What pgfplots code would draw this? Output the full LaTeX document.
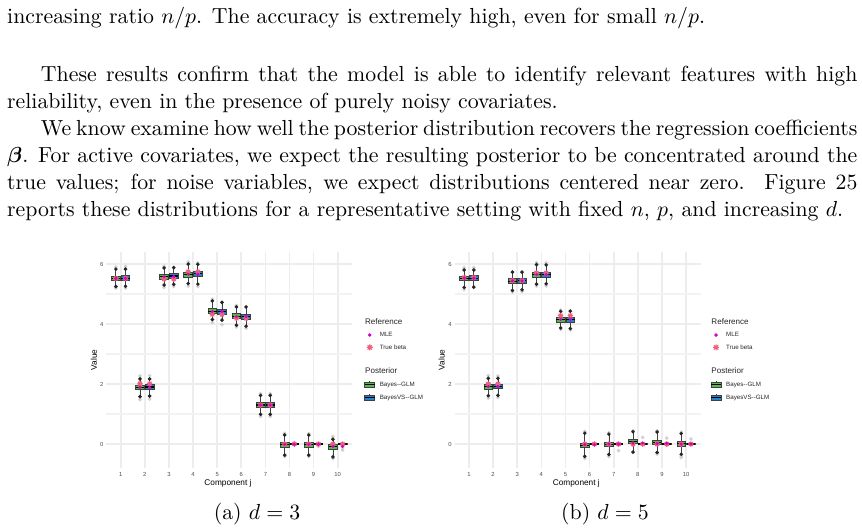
\documentclass[border=0pt]{standalone}
\usepackage{amsmath}
\usepackage{fontspec}
\newfontfamily\plotfont{Liberation Sans}
\usepackage{pgfplots}
\pgfplotsset{compat=1.18}
\usepgfplotslibrary{statistics}
\definecolor{bgreen}{RGB}{80,190,70}
\definecolor{bblue}{RGB}{36,130,200}
\definecolor{mlecol}{RGB}{210,0,200}
\definecolor{starcol}{RGB}{240,95,125}
\pgfdeclareplotmark{ast8}{%
 \pgfpathmoveto{\pgfqpoint{-\pgfplotmarksize}{0pt}}\pgfpathlineto{\pgfqpoint{\pgfplotmarksize}{0pt}}%
 \pgfpathmoveto{\pgfqpoint{0pt}{-\pgfplotmarksize}}\pgfpathlineto{\pgfqpoint{0pt}{\pgfplotmarksize}}%
 \pgfpathmoveto{\pgfqpoint{-.7071\pgfplotmarksize}{-.7071\pgfplotmarksize}}\pgfpathlineto{\pgfqpoint{.7071\pgfplotmarksize}{.7071\pgfplotmarksize}}%
 \pgfpathmoveto{\pgfqpoint{-.7071\pgfplotmarksize}{.7071\pgfplotmarksize}}\pgfpathlineto{\pgfqpoint{.7071\pgfplotmarksize}{-.7071\pgfplotmarksize}}%
 \pgfusepathqstroke}
\pgfplotsset{
 panel/.style={
   scale only axis, width=112.84pt, height=99.08pt,
   xmin=0.4, xmax=10.6, ymin=-0.8, ymax=6.4,
   xtick={1,...,10}, ytick={0,2,4,6}, minor ytick={1,3,5},
   grid=both, major grid style={black!7, line width=0.75pt}, minor grid style={black!5, line width=0.5pt},
   axis line style={draw=none}, major tick length=0pt, minor tick length=0pt,
   /pgf/number format/assume math mode=true,
   tick label style={font=\plotfont\fontsize{2.7}{3}\selectfont, text=black!70},
   xticklabel style={anchor=center, yshift=-2.9pt},
   yticklabel style={anchor=center, xshift=-2.06pt},
   xlabel={Component j}, ylabel={Value},
   label style={font=\plotfont\fontsize{3.8}{4.2}\selectfont},
   xlabel style={at={(axis description cs:0.495,-0.0708)}, anchor=center},
   legend cell align=left,
   legend style={anchor=north west, draw=none, fill=none, inner sep=0pt, outer sep=0pt,
     row sep=2.46pt, column sep=2.15pt,
     nodes={inner sep=0pt, text height=2.4pt, text depth=0.8pt, font=\plotfont\fontsize{2.85}{3.2}\selectfont, text=black!85}},
 },
 gb/.style={forget plot, boxplot/draw direction=y, draw=black!75, line width=0.35pt, fill=bgreen,
   boxplot/box extend=0.36, boxplot/whisker extend=0, boxplot/every median/.style={draw=black, line width=0.5pt}},
 vb/.style={gb, fill=bblue},
 enddots/.style={forget plot, only marks, mark=*, mark size=0.62pt, black!85},
 faint/.style={forget plot, only marks, mark=*, mark size=0.62pt, black!18},
 truebeta/.style={forget plot, only marks, mark=ast8, mark size=1.25pt, starcol, line width=0.5pt},
 mle/.style={forget plot, only marks, mark=*, mark size=0.5pt, mlecol},
}
\newcommand{\legendentries}{%
 \addlegendimage{empty legend}\addlegendentry{\hspace*{-6.74pt}\fontsize{3.7}{4}\selectfont Reference}
 \addlegendimage{legend image code/.code={\path[draw=none,fill=none] (0pt,-1.6pt) rectangle (4.59pt,1.6pt); \fill[mlecol] (2.3pt,0pt) circle (0.6pt);}}\addlegendentry{MLE}
 \addlegendimage{legend image code/.code={\path[draw=none,fill=none] (0pt,-1.6pt) rectangle (4.59pt,1.6pt); \draw[starcol, line width=0.5pt] plot[mark=ast8, mark size=1.4pt] coordinates {(2.3pt,0pt)};}}\addlegendentry{True beta}
 \addlegendimage{empty legend}\addlegendentry{}
 \addlegendimage{empty legend}\addlegendentry{\hspace*{-6.74pt}\fontsize{3.7}{4}\selectfont Posterior}
 \addlegendimage{legend image code/.code={\path[draw=none,fill=none] (0pt,-1.6pt) rectangle (4.59pt,1.6pt); \draw[black!75, line width=0.3pt] (2.3pt,-1.6pt)--(2.3pt,1.6pt); \draw[black!75, line width=0.3pt, fill=bgreen] (0pt,-1.2pt) rectangle (4.59pt,1.2pt); \draw[black, line width=0.4pt] (0pt,0pt)--(4.59pt,0pt);}}\addlegendentry{Bayes--GLM}
 \addlegendimage{legend image code/.code={\path[draw=none,fill=none] (0pt,-1.6pt) rectangle (4.59pt,1.6pt); \draw[black!75, line width=0.3pt] (2.3pt,-1.6pt)--(2.3pt,1.6pt); \draw[black!75, line width=0.3pt, fill=bblue] (0pt,-1.2pt) rectangle (4.59pt,1.2pt); \draw[black, line width=0.4pt] (0pt,0pt)--(4.59pt,0pt);}}\addlegendentry{BayesVS--GLM}
}
\begin{document}
\begin{tikzpicture}
\path[use as bounding box] (0,0) rectangle (395.4pt,-243.6pt);
% ---------- text ----------
\node[anchor=base west, inner sep=0] at (3.1pt,-11.0pt) {increasing ratio $n/p$. The accuracy is extremely high, even for small $n/p$.};
\node[anchor=base west, inner sep=0] at (3.1pt,-37.6pt) {\makebox[390pt][s]{\hspace*{15.5pt}These results confirm that the model is able to identify relevant features with high}};
\node[anchor=base west, inner sep=0] at (3.1pt,-49.93pt) {reliability, even in the presence of purely noisy covariates.};
\node[anchor=base west, inner sep=0] at (3.1pt,-62.26pt) {\makebox[390pt][s]{\hspace*{15.5pt}We know examine how well the posterior distribution recovers the regression coefficients}};
\node[anchor=base west, inner sep=0] at (3.1pt,-74.6pt) {\makebox[390pt][s]{$\boldsymbol{\beta}$. For active covariates, we expect the resulting posterior to be concentrated around the}};
\node[anchor=base west, inner sep=0] at (3.1pt,-86.93pt) {\makebox[390pt][s]{true values; for noise variables, we expect distributions centered near zero.\ \ Figure 25}};
\node[anchor=base west, inner sep=0] at (3.1pt,-99.26pt) {reports these distributions for a representative setting with fixed $n$, $p$, and increasing $d$.};
% ---------- left panel d=3 ----------
\begin{axis}[panel, at={(48.72pt,-214.68pt)}, anchor=south west,
  ylabel style={at={(axis description cs:-0.0496,0.5)}, anchor=center},
  legend style={at={(axis description cs:1.049,0.689)}}]
\addplot[gb, boxplot prepared={draw position=0.8, lower whisker=5.25, lower quartile=5.44, median=5.52, upper quartile=5.60, upper whisker=5.83}] coordinates {};
\addplot[gb, boxplot prepared={draw position=1.8, lower whisker=1.58, lower quartile=1.81, median=1.89, upper quartile=1.97, upper whisker=2.17}] coordinates {};
\addplot[gb, boxplot prepared={draw position=2.8, lower whisker=5.30, lower quartile=5.50, median=5.58, upper quartile=5.66, upper whisker=5.87}] coordinates {};
\addplot[gb, boxplot prepared={draw position=3.8, lower whisker=5.35, lower quartile=5.57, median=5.65, upper quartile=5.73, upper whisker=6.00}] coordinates {};
\addplot[gb, boxplot prepared={draw position=4.8, lower whisker=4.15, lower quartile=4.35, median=4.43, upper quartile=4.51, upper whisker=4.77}] coordinates {};
\addplot[gb, boxplot prepared={draw position=5.8, lower whisker=3.96, lower quartile=4.18, median=4.26, upper quartile=4.34, upper whisker=4.57}] coordinates {};
\addplot[gb, boxplot prepared={draw position=6.8, lower whisker=0.99, lower quartile=1.22, median=1.30, upper quartile=1.38, upper whisker=1.62}] coordinates {};
\addplot[gb, boxplot prepared={draw position=7.8, lower whisker=-0.37, lower quartile=-0.11, median=-0.03, upper quartile=0.05, upper whisker=0.30}] coordinates {};
\addplot[gb, boxplot prepared={draw position=8.8, lower whisker=-0.37, lower quartile=-0.11, median=-0.03, upper quartile=0.05, upper whisker=0.30}] coordinates {};
\addplot[gb, boxplot prepared={draw position=9.8, lower whisker=-0.43, lower quartile=-0.17, median=-0.09, upper quartile=-0.02, upper whisker=0.16}] coordinates {};
\addplot[vb, boxplot prepared={draw position=1.2, lower whisker=5.26, lower quartile=5.45, median=5.53, upper quartile=5.61, upper whisker=5.83}] coordinates {};
\addplot[vb, boxplot prepared={draw position=2.2, lower whisker=1.60, lower quartile=1.82, median=1.90, upper quartile=1.98, upper whisker=2.17}] coordinates {};
\addplot[vb, boxplot prepared={draw position=3.2, lower whisker=5.32, lower quartile=5.52, median=5.60, upper quartile=5.68, upper whisker=5.88}] coordinates {};
\addplot[vb, boxplot prepared={draw position=4.2, lower whisker=5.33, lower quartile=5.59, median=5.67, upper quartile=5.75, upper whisker=5.99}] coordinates {};
\addplot[vb, boxplot prepared={draw position=5.2, lower whisker=4.13, lower quartile=4.33, median=4.41, upper quartile=4.49, upper whisker=4.72}] coordinates {};
\addplot[vb, boxplot prepared={draw position=6.2, lower whisker=3.93, lower quartile=4.17, median=4.25, upper quartile=4.33, upper whisker=4.57}] coordinates {};
\addplot[vb, boxplot prepared={draw position=7.2, lower whisker=0.99, lower quartile=1.22, median=1.30, upper quartile=1.38, upper whisker=1.62}] coordinates {};
\addplot[vb, boxplot prepared={draw position=8.2, lower whisker=0, lower quartile=-0.005, median=0, upper quartile=0.005, upper whisker=0}] coordinates {};
\addplot[vb, boxplot prepared={draw position=9.2, lower whisker=0, lower quartile=-0.005, median=0, upper quartile=0.005, upper whisker=0}] coordinates {};
\addplot[vb, boxplot prepared={draw position=10.2, lower whisker=0, lower quartile=-0.005, median=0, upper quartile=0.005, upper whisker=0}] coordinates {};
\addplot[faint] coordinates {(0.8,5.9) (0.8,5.2) (1.8,2.27) (1.8,1.48) (2.8,5.22) (2.8,5.93) (3.8,6.07) (3.8,5.26) (4.8,4.83) (4.8,4.05) (5.8,3.9) (5.8,4.62) (6.8,1.68) (6.8,0.92) (7.8,0.36) (7.8,-0.42) (8.8,0.35) (8.8,-0.42) (9.8,0.25) (9.8,-0.48)
 (1.2,5.92) (1.2,5.2) (2.2,2.28) (2.2,1.5) (3.2,5.25) (4.2,5.25) (4.2,6.04) (5.2,3.98) (6.2,3.86) (7.2,1.68) (7.2,0.92) (8.2,0.05) (9.2,-0.08) (10.2,-0.12) (10.2,-0.2)};
\addplot[enddots] coordinates {(0.8,5.25) (0.8,5.83) (1.8,1.58) (1.8,2.17) (2.8,5.30) (2.8,5.87) (3.8,5.35) (3.8,6.00) (4.8,4.15) (4.8,4.77) (5.8,3.96) (5.8,4.57) (6.8,0.99) (6.8,1.62) (7.8,-0.37) (7.8,0.30) (8.8,-0.37) (8.8,0.30) (9.8,-0.43) (9.8,0.16)
 (1.2,5.26) (1.2,5.83) (2.2,1.60) (2.2,2.17) (3.2,5.32) (3.2,5.88) (4.2,5.33) (4.2,5.99) (5.2,4.13) (5.2,4.72) (6.2,3.93) (6.2,4.57) (7.2,0.99) (7.2,1.62)};
\addplot[truebeta] coordinates {(0.8,5.52) (1.2,5.52) (1.8,2.01) (2.2,2.01) (2.8,5.50) (3.2,5.50) (3.8,5.74) (4.2,5.74) (4.8,4.32) (5.2,4.32) (5.8,4.19) (6.2,4.19) (6.8,1.30) (7.2,1.30) (7.8,0) (8.2,0) (8.8,0) (9.2,0) (9.8,0) (10.2,0)};
\addplot[mle] coordinates {(0.8,5.52) (1.2,5.52) (1.8,1.89) (2.2,1.89) (2.8,5.58) (3.2,5.58) (3.8,5.66) (4.2,5.66) (4.8,4.42) (5.2,4.42) (5.8,4.25) (6.2,4.25) (6.8,1.30) (7.2,1.30) (7.8,-0.01) (8.2,-0.01) (8.8,-0.01) (9.2,-0.01) (9.8,-0.08) (10.2,-0.08)};
\legendentries
\end{axis}
% ---------- right panel d=5 ----------
\begin{axis}[panel, at={(208.49pt,-214.68pt)}, anchor=south west,
  ylabel style={at={(axis description cs:-0.052,0.5)}, anchor=center},
  legend style={at={(axis description cs:1.041,0.689)}}]
\addplot[gb, boxplot prepared={draw position=0.8, lower whisker=5.22, lower quartile=5.44, median=5.52, upper quartile=5.60, upper whisker=5.80}] coordinates {};
\addplot[gb, boxplot prepared={draw position=1.8, lower whisker=1.61, lower quartile=1.83, median=1.91, upper quartile=1.99, upper whisker=2.19}] coordinates {};
\addplot[gb, boxplot prepared={draw position=2.8, lower whisker=5.12, lower quartile=5.35, median=5.43, upper quartile=5.51, upper whisker=5.73}] coordinates {};
\addplot[gb, boxplot prepared={draw position=3.8, lower whisker=5.33, lower quartile=5.56, median=5.64, upper quartile=5.72, upper whisker=5.98}] coordinates {};
\addplot[gb, boxplot prepared={draw position=4.8, lower whisker=3.87, lower quartile=4.06, median=4.14, upper quartile=4.22, upper whisker=4.42}] coordinates {};
\addplot[gb, boxplot prepared={draw position=5.8, lower whisker=-0.41, lower quartile=-0.11, median=-0.04, upper quartile=0.03, upper whisker=0.36}] coordinates {};
\addplot[gb, boxplot prepared={draw position=6.8, lower whisker=-0.35, lower quartile=-0.09, median=-0.01, upper quartile=0.07, upper whisker=0.33}] coordinates {};
\addplot[gb, boxplot prepared={draw position=7.8, lower whisker=-0.27, lower quartile=0.01, median=0.08, upper quartile=0.15, upper whisker=0.41}] coordinates {};
\addplot[gb, boxplot prepared={draw position=8.8, lower whisker=-0.28, lower quartile=-0.01, median=0.06, upper quartile=0.13, upper whisker=0.40}] coordinates {};
\addplot[gb, boxplot prepared={draw position=9.8, lower whisker=-0.34, lower quartile=-0.07, median=0.01, upper quartile=0.08, upper whisker=0.35}] coordinates {};
\addplot[vb, boxplot prepared={draw position=1.2, lower whisker=5.23, lower quartile=5.45, median=5.53, upper quartile=5.61, upper whisker=5.80}] coordinates {};
\addplot[vb, boxplot prepared={draw position=2.2, lower whisker=1.62, lower quartile=1.84, median=1.92, upper quartile=2.00, upper whisker=2.19}] coordinates {};
\addplot[vb, boxplot prepared={draw position=3.2, lower whisker=5.14, lower quartile=5.37, median=5.45, upper quartile=5.53, upper whisker=5.73}] coordinates {};
\addplot[vb, boxplot prepared={draw position=4.2, lower whisker=5.34, lower quartile=5.57, median=5.65, upper quartile=5.73, upper whisker=5.97}] coordinates {};
\addplot[vb, boxplot prepared={draw position=5.2, lower whisker=3.85, lower quartile=4.06, median=4.14, upper quartile=4.22, upper whisker=4.43}] coordinates {};
\addplot[vb, boxplot prepared={draw position=6.2, lower whisker=0, lower quartile=-0.005, median=0, upper quartile=0.005, upper whisker=0}] coordinates {};
\addplot[vb, boxplot prepared={draw position=7.2, lower whisker=0, lower quartile=-0.005, median=0, upper quartile=0.005, upper whisker=0}] coordinates {};
\addplot[vb, boxplot prepared={draw position=8.2, lower whisker=0, lower quartile=-0.005, median=0, upper quartile=0.005, upper whisker=0}] coordinates {};
\addplot[vb, boxplot prepared={draw position=9.2, lower whisker=0, lower quartile=-0.005, median=0, upper quartile=0.005, upper whisker=0}] coordinates {};
\addplot[vb, boxplot prepared={draw position=10.2, lower whisker=0, lower quartile=-0.005, median=0, upper quartile=0.005, upper whisker=0}] coordinates {};
\addplot[faint] coordinates {(0.8,5.88) (0.8,5.15) (1.8,2.28) (1.8,1.53) (2.8,5.07) (3.8,6.05) (3.8,5.26) (4.8,3.82) (4.8,4.47) (5.8,0.42) (5.8,-0.48) (6.8,0.38) (6.8,-0.42) (7.8,0.45) (8.8,0.44) (8.8,-0.33) (9.8,-0.45) (9.8,0.40) (9.8,-0.40)
 (1.2,5.88) (2.2,2.27) (2.2,1.55) (3.2,5.08) (4.2,6.04) (4.2,5.27) (5.2,3.80) (6.2,0.03) (7.2,-0.22) (8.2,0.22) (9.2,0.20) (10.2,0.17)};
\addplot[enddots] coordinates {(0.8,5.22) (0.8,5.80) (1.8,1.61) (1.8,2.19) (2.8,5.12) (2.8,5.73) (3.8,5.33) (3.8,5.98) (4.8,3.87) (4.8,4.42) (5.8,-0.41) (5.8,0.36) (6.8,-0.35) (6.8,0.33) (7.8,-0.27) (7.8,0.41) (8.8,-0.28) (8.8,0.40) (9.8,-0.34) (9.8,0.35)
 (1.2,5.23) (1.2,5.80) (2.2,1.62) (2.2,2.19) (3.2,5.14) (3.2,5.73) (4.2,5.34) (4.2,5.97) (5.2,3.85) (5.2,4.43)};
\addplot[truebeta] coordinates {(0.8,5.55) (1.2,5.55) (1.8,2.00) (2.2,2.00) (2.8,5.45) (3.2,5.45) (3.8,5.70) (4.2,5.70) (4.8,4.28) (5.2,4.28) (5.8,0) (6.2,0) (6.8,0) (7.2,0) (7.8,0) (8.2,0) (8.8,0) (9.2,0) (9.8,0) (10.2,0)};
\addplot[mle] coordinates {(0.8,5.53) (1.2,5.53) (1.8,1.92) (2.2,1.92) (2.8,5.44) (3.2,5.44) (3.8,5.65) (4.2,5.65) (4.8,4.15) (5.2,4.15) (5.8,-0.02) (6.2,-0.02) (6.8,0) (7.2,0) (7.8,0.03) (8.2,0.03) (8.8,0.02) (9.2,0.02) (9.8,0) (10.2,0)};
\legendentries
\end{axis}
% ---------- captions ----------
\node[anchor=base, inner sep=0] at (117.9pt,-238.07pt) {(a) $d = 3$};
\node[anchor=base, inner sep=0] at (277.5pt,-238.07pt) {(b) $d = 5$};
\end{tikzpicture}
\end{document}
